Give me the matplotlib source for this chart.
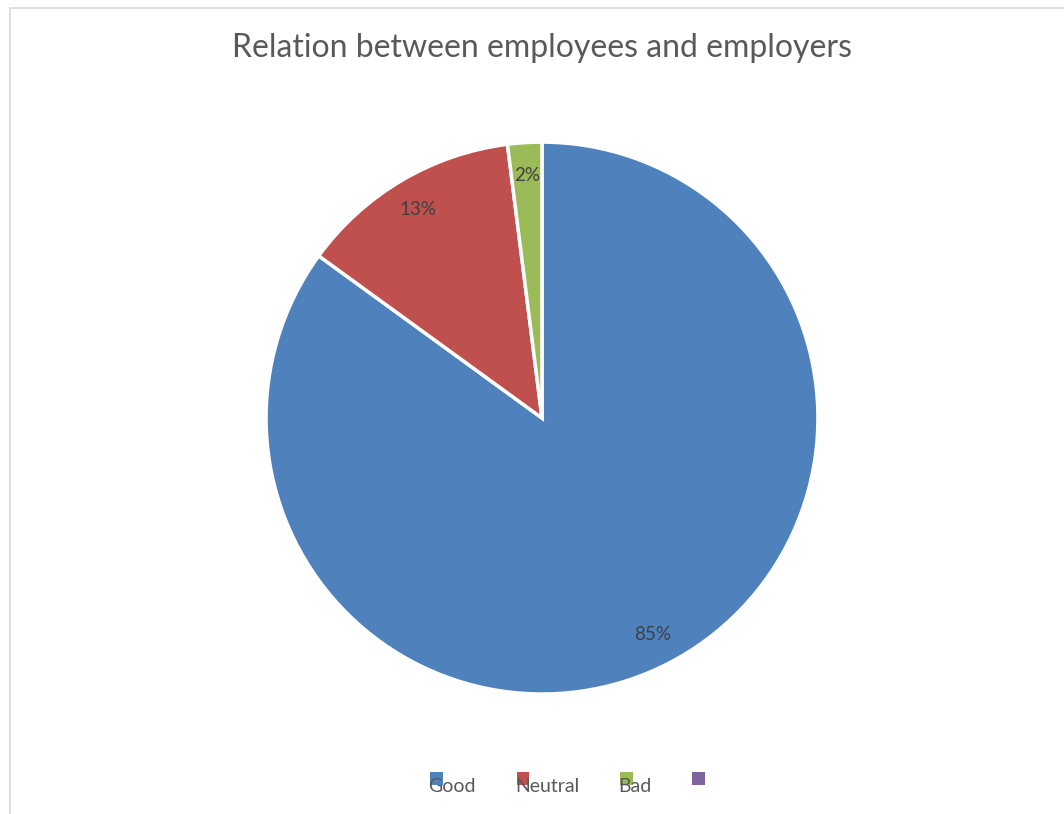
import matplotlib
matplotlib.use("Agg")
import matplotlib.pyplot as plt
from matplotlib.patches import Rectangle, Patch
from matplotlib.legend_handler import HandlerPatch

title = "Relation between employees and employers"
categories = ["Good", "Neutral", "Bad", ""]
values = [85, 13, 2]
colors = ["#4F81BD", "#C0504D", "#9BBB59", "#8064A2"]

plt.rcParams['font.family'] = ['Lato', 'DejaVu Sans']

fig = plt.figure(figsize=(10.64, 8.14), dpi=100)
fig.patch.set_facecolor("white")

# chart area border
fig.add_artist(Rectangle((10 / 1064, -0.01), 1.02, 1 - 8 / 814 + 0.01,
                         transform=fig.transFigure, fill=False,
                         edgecolor="#D9D9D9", linewidth=1.2))

ax = fig.add_axes([0.25, 0.1474, 0.5188, 0.678])
wedges, texts, autotexts = ax.pie(
    values, colors=colors[:3], startangle=90, counterclock=False,
    autopct="%d%%", pctdistance=0.88,
    wedgeprops=dict(edgecolor="white", linewidth=2.5),
    textprops=dict(color="#404040", fontsize=13.5))
ax.set_xlim(-1, 1)
ax.set_ylim(-1, 1)
ax.set_aspect("equal")

fig.text(0.5094, 1 - 48 / 814, title, ha="center", va="center",
         fontsize=23, color="#595959")


def raised_square(legend, orig_handle, xdescent, ydescent, width, height, fontsize):
    return Rectangle((-xdescent, -ydescent + height * 0.55), width, width)


handles = [Patch(facecolor=c, edgecolor="none") for c in colors]
fig.legend(handles, categories, loc="center", bbox_to_anchor=(0.5265, 1 - 787 / 814),
           ncol=4, frameon=False, fontsize=14, labelcolor="#595959",
           handlelength=0.65, handleheight=0.65, handletextpad=-0.75,
           columnspacing=2.1,
           handler_map={Patch: HandlerPatch(patch_func=raised_square)})

fig.savefig("out.png", dpi=100)
